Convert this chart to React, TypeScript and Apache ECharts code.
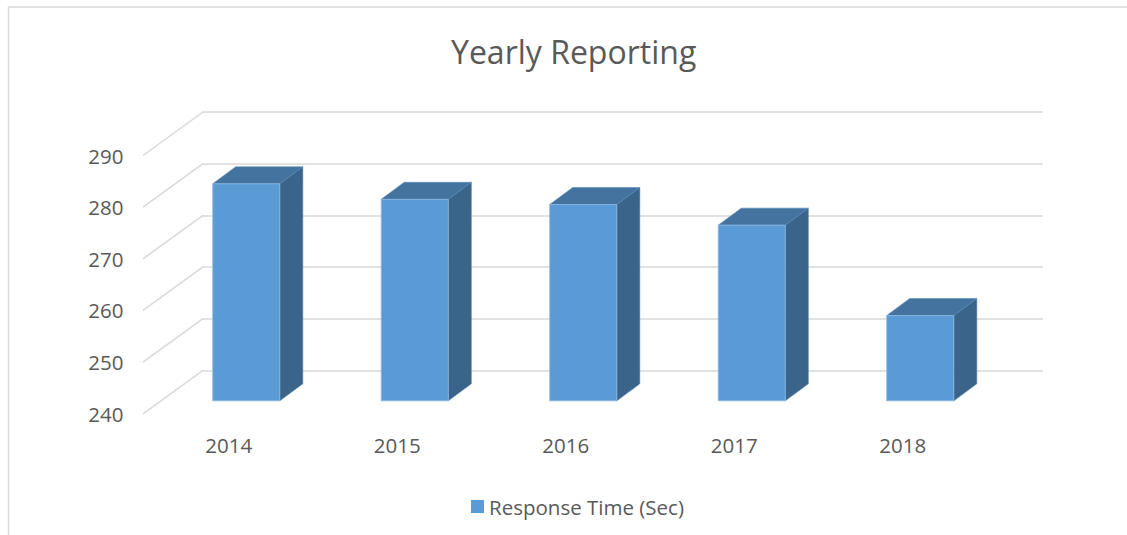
import React, { useEffect, useRef } from "react";
import * as echarts from "echarts";

const years = ["2014", "2015", "2016", "2017", "2018"];
const responseTime = [282, 279, 278, 274, 256.5];
const seriesName = "Response Time (Sec)";
const yMin = 240;
const yMax = 290;
const yStep = 10;
const yTicks = [240, 250, 260, 270, 280, 290];

const FRONT = "#5B9BD5";
const TOP = "#44739F";
const SIDE = "#3A6489";
const GRID = "#D9D9D9";
const TEXT = "#595959";
const FONT = "'Open Sans', sans-serif";

export default function App() {
  const ref = useRef<HTMLDivElement>(null);
  useEffect(() => {
    if (!ref.current) return;
    const chart = echarts.init(ref.current, null, { renderer: "svg" });
    const OX = 17.5, OY = -13, DX = 23, DY = -17;
    const BX = 58.5, BY = -43.5;
    const option: any = {
      animation: false,
      backgroundColor: "#fff",
      title: {
        text: "Yearly Reporting",
        left: 446,
        top: 30,
        textStyle: { fontFamily: FONT, fontSize: 32, fontWeight: "normal", color: TEXT },
      },
      legend: {
        data: [seriesName],
        left: 466,
        top: 491,
        icon: "rect",
        itemWidth: 13,
        itemHeight: 13,
        textStyle: { fontFamily: FONT, fontSize: 20.5, color: TEXT },
      },
      graphic: [
        {
          type: "rect",
          shape: { x: 8.5, y: 7, width: 2000, height: 2000 },
          style: { fill: "none", stroke: GRID, lineWidth: 1.5 },
          silent: true,
        },
      ],
      grid: [
        { left: 202, right: 84, top: 112, height: 258.3 },
        { left: 144.5, right: 1127 - 144.5 - 842.5, top: 155.5, height: 258.3 },
      ],
      xAxis: [
        {
          gridIndex: 0,
          type: "category",
          data: years,
          axisLine: { show: false },
          axisTick: { show: false },
          axisLabel: { show: false },
        },
        {
          gridIndex: 1,
          type: "category",
          data: years,
          axisLine: { show: false },
          axisTick: { show: false },
          axisLabel: { margin: 21, fontFamily: FONT, fontSize: 20.5, color: TEXT },
        },
      ],
      yAxis: [
        {
          gridIndex: 0,
          type: "value",
          min: yMin,
          max: yMax,
          interval: yStep,
          axisLine: { show: false },
          axisTick: { show: false },
          axisLabel: { show: false },
          splitLine: { show: true, lineStyle: { color: GRID, width: 1.5 } },
        },
        {
          gridIndex: 1,
          type: "value",
          min: yMin,
          max: yMax,
          interval: yStep,
          axisLine: { show: false },
          axisTick: { show: false },
          axisLabel: { margin: 21, fontFamily: FONT, fontSize: 20.5, color: TEXT },
          splitLine: { show: false },
        },
      ],
      series: [
        {
          type: "custom",
          name: "walls",
          xAxisIndex: 1,
          yAxisIndex: 1,
          silent: true,
          data: yTicks.map((v) => [0, v]),
          renderItem: (params: any, api: any) => {
            const v = api.value(1);
            const p = api.coord([0, v]);
            const cw = api.size([1, 0])[0];
            const x0 = p[0] - cw / 2 - 1.5;
            return {
              type: "line",
              shape: { x1: x0, y1: p[1], x2: x0 + BX + 1.5, y2: p[1] + BY },
              style: { stroke: GRID, lineWidth: 1.5 },
            };
          },
        },
        {
          type: "custom",
          name: seriesName,
          xAxisIndex: 1,
          yAxisIndex: 1,
          itemStyle: { color: FRONT },
          data: responseTime.map((v, i) => [i, v]),
          renderItem: (params: any, api: any) => {
            const i = api.value(0);
            const v = api.value(1);
            const top = api.coord([i, v]);
            const base = api.coord([i, yMin]);
            const cw = api.size([1, 0])[0];
            const w = cw * 0.398;
            const L = top[0] + OX - w / 2;
            const R = L + w;
            const T = top[1] + OY;
            const B = base[1] + OY;
            return {
              type: "group",
              children: [
                {
                  type: "polygon",
                  shape: { points: [[R, T], [R + DX, T + DY], [R + DX, B + DY], [R, B]] },
                  style: { fill: SIDE, stroke: "#4A7DAD", lineWidth: 0.6 },
                },
                {
                  type: "polygon",
                  shape: { points: [[L, T], [R, T], [R + DX, T + DY], [L + DX, T + DY]] },
                  style: { fill: TOP, stroke: "#5588B8", lineWidth: 0.6 },
                },
                {
                  type: "rect",
                  shape: { x: L, y: T, width: w, height: B - T },
                  style: { fill: FRONT, stroke: "#8AB8E3", lineWidth: 0.8 },
                },
              ],
            };
          },
        },
      ],
    };
    chart.setOption(option);
    return () => chart.dispose();
  }, []);
  return (
    <div
      ref={ref}
      style={{ position: "absolute", left: 0, top: 0, width: 1127, height: 535 }}
    />
  );
}
